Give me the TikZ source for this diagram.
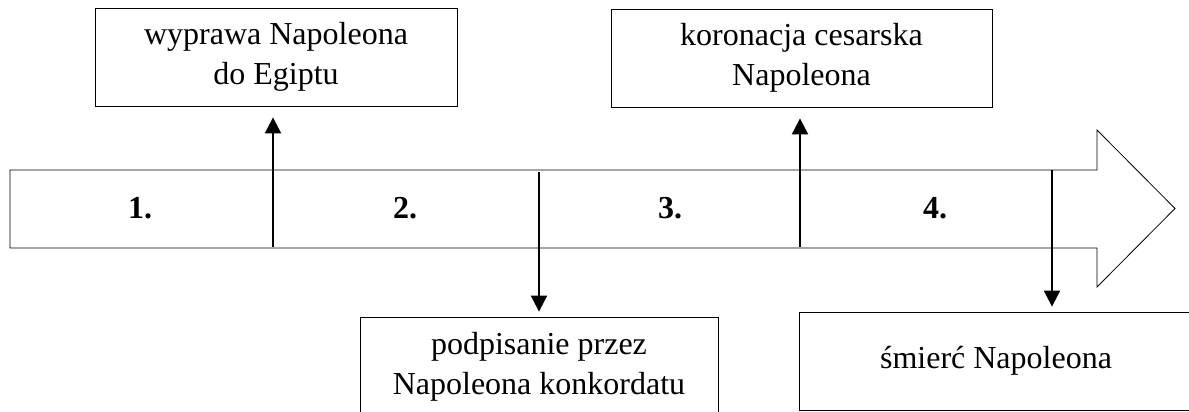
\documentclass[tikz,border=0pt]{standalone}
\usepackage{fontspec}
\setmainfont{Liberation Serif}
\usetikzlibrary{arrows.meta,positioning,calc}

\begin{document}
\begin{tikzpicture}[x=1pt,y=-1pt,
                    event/.style={draw,thick,inner sep=0pt,align=center,
                      font=\fontsize{32}{40}\selectfont},
                    period/.style={font=\fontsize{32}{40}\selectfont\bfseries},
                    link/.style={line width=2pt,-{Triangle[length=16pt,width=16pt]}}]
                  \useasboundingbox (0,0) rectangle (1189,412);

                  % the time line
                  \draw[thick] (10,170) -- (1097,170) -- (1097,130) -- (1175,208.5)
                    -- (1097,287) -- (1097,248) -- (10,248) -- cycle;

                  \node (P1) [period] at (140,208) {1.};
                  \node (P2) [period] at (405,208) {2.};
                  \node (P3) [period] at (670,208) {3.};
                  \node (P4) [period] at (935,208) {4.};

                  % events above
                  \node (egipt) [event,minimum width=362pt,minimum height=98pt]
                    at (276,57) {wyprawa Napoleona\\do Egiptu};
                  \node (koronacja) [event,minimum width=381pt,minimum height=98pt]
                    at (801.5,58) {koronacja cesarska\\Napoleona};

                  % events below
                  \node (konkordat) [event,minimum width=358pt,minimum height=99pt]
                    at (539,366.5) {podpisanie przez\\Napoleona konkordatu};
                  \node (smierc) [event,minimum width=394pt,minimum height=98pt]
                    at (996,361) {śmierć Napoleona};

                  \coordinate (t1) at (273,247);
                  \coordinate (t2) at (539,172);
                  \coordinate (t3) at (800,247);
                  \coordinate (t4) at (1052,170);

                  \draw [link,shorten >=11pt] (t1) -- (t1 |- egipt.south);
                  \draw [link,shorten >=5pt] (t2) -- (konkordat.north);
                  \draw [link,shorten >=11pt] (t3) -- (t3 |- koronacja.south);
                  \draw [link,shorten >=5pt] (t4) -- (t4 |- smierc.north);
                \end{tikzpicture}
\end{document}
